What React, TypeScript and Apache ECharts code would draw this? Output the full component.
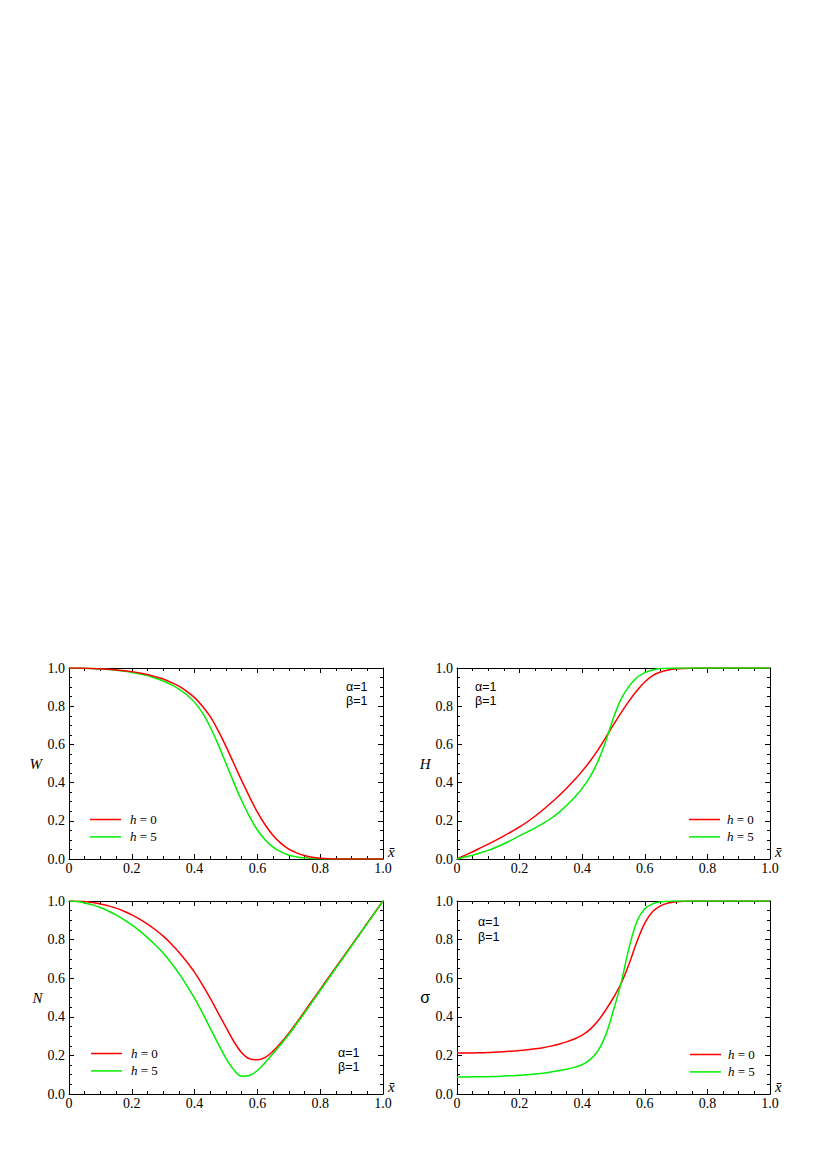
import React, { useEffect, useRef } from 'react';
import * as echarts from 'echarts';

// shared abscissa (x̄), step 0.025
const X = [0, 0.025, 0.05, 0.075, 0.1, 0.125, 0.15, 0.175, 0.2, 0.225, 0.25, 0.275, 0.3, 0.325, 0.35, 0.375, 0.4, 0.425, 0.45, 0.475, 0.5, 0.525, 0.55, 0.575, 0.6, 0.625, 0.65, 0.675, 0.7, 0.725, 0.75, 0.775, 0.8, 0.825, 0.85, 0.875, 0.9, 0.925, 0.95, 0.975, 1.0];

const W_H0 = [1.0, 1.0, 0.999, 0.998, 0.996, 0.993, 0.99, 0.986, 0.981, 0.974, 0.966, 0.955, 0.942, 0.925, 0.905, 0.878, 0.845, 0.8, 0.745, 0.672, 0.59, 0.5, 0.41, 0.325, 0.245, 0.178, 0.123, 0.082, 0.052, 0.032, 0.018, 0.009, 0.004, 0.001, 0, 0, 0, 0, 0, 0, 0];
const W_H5 = [1.0, 1.0, 0.999, 0.997, 0.995, 0.992, 0.988, 0.983, 0.977, 0.969, 0.96, 0.947, 0.932, 0.913, 0.89, 0.86, 0.82, 0.765, 0.69, 0.6, 0.5, 0.4, 0.305, 0.222, 0.152, 0.1, 0.062, 0.037, 0.02, 0.011, 0.006, 0.003, 0.001, 0, 0, 0, 0, 0, 0, 0, 0];

const H_H0 = [0, 0.019, 0.038, 0.058, 0.078, 0.099, 0.121, 0.144, 0.168, 0.195, 0.225, 0.258, 0.293, 0.33, 0.37, 0.413, 0.46, 0.512, 0.57, 0.635, 0.703, 0.768, 0.828, 0.882, 0.927, 0.96, 0.979, 0.99, 0.996, 0.998, 0.999, 1, 1, 1, 1, 1, 1, 1, 1, 1, 1];
const H_H5 = [0, 0.01, 0.02, 0.032, 0.045, 0.062, 0.08, 0.1, 0.122, 0.142, 0.163, 0.186, 0.212, 0.243, 0.28, 0.322, 0.37, 0.43, 0.51, 0.615, 0.74, 0.84, 0.905, 0.95, 0.976, 0.99, 0.997, 0.999, 1, 1, 1, 1, 1, 1, 1, 1, 1, 1, 1, 1, 1];

const N_H0 = [1, 0.999, 0.997, 0.992, 0.985, 0.975, 0.963, 0.947, 0.928, 0.906, 0.88, 0.851, 0.818, 0.779, 0.735, 0.685, 0.63, 0.565, 0.495, 0.42, 0.345, 0.272, 0.214, 0.182, 0.177, 0.19, 0.222, 0.265, 0.315, 0.37, 0.427, 0.485, 0.542, 0.6, 0.657, 0.714, 0.771, 0.828, 0.886, 0.943, 1];
const N_H5 = [1, 0.997, 0.99, 0.98, 0.966, 0.948, 0.928, 0.903, 0.876, 0.845, 0.81, 0.772, 0.73, 0.68, 0.625, 0.562, 0.495, 0.42, 0.34, 0.26, 0.185, 0.125, 0.092, 0.096, 0.122, 0.163, 0.21, 0.258, 0.308, 0.364, 0.42, 0.478, 0.536, 0.594, 0.652, 0.71, 0.768, 0.826, 0.884, 0.942, 1];

const S_H0 = [0.212, 0.212, 0.213, 0.214, 0.215, 0.217, 0.219, 0.222, 0.225, 0.229, 0.234, 0.24, 0.248, 0.258, 0.27, 0.285, 0.305, 0.335, 0.378, 0.435, 0.5, 0.575, 0.675, 0.79, 0.885, 0.945, 0.975, 0.99, 0.996, 0.999, 1, 1, 1, 1, 1, 1, 1, 1, 1, 1, 1];
const S_H5 = [0.088, 0.088, 0.089, 0.089, 0.09, 0.091, 0.093, 0.095, 0.097, 0.1, 0.104, 0.108, 0.114, 0.12, 0.128, 0.138, 0.152, 0.178, 0.222, 0.305, 0.435, 0.58, 0.76, 0.895, 0.96, 0.985, 0.995, 0.999, 1, 1, 1, 1, 1, 1, 1, 1, 1, 1, 1, 1, 1];

const LEGEND_NAMES = ['h = 0', 'h = 5'];
const PARAM_TEXT = 'α=1\nβ=1';

const RED = '#ff0000';
const GREEN = '#00ee00';

const pairs = (ys: number[]) => X.map((x, i) => [x, ys[i]]);

const SERIF = "'Times New Roman', 'Liberation Serif', serif";
const SANS = "'Liberation Sans', Arial, sans-serif";

export default function App() {
  const ref = useRef<HTMLDivElement>(null);
  useEffect(() => {
    if (!ref.current) return;
    const chart = echarts.init(ref.current, null, { renderer: 'svg' });

    const panels = [
      { left: 69, top: 668, width: 314, height: 191, name: 'W', sans: false, nameGap: 27, h0: W_H0, h5: W_H5, redTop: true,
        lg: { left: 90, top: 812.5, pad: 4 }, ann: { x: 346, y: 680.5, lh: 13.5 } },
      { left: 457, top: 668, width: 313, height: 191, name: 'H', sans: false, nameGap: 24, h0: H_H0, h5: H_H5, redTop: false,
        lg: { left: 689, top: 812.5, pad: 2 }, ann: { x: 475, y: 680.5, lh: 13.5 } },
      { left: 69, top: 901, width: 314, height: 193, name: 'N', sans: false, nameGap: 24, h0: N_H0, h5: N_H5, redTop: false,
        lg: { left: 91, top: 1046.5, pad: 4 }, ann: { x: 338, y: 1046, lh: 14 } },
      { left: 457, top: 901, width: 313, height: 193, name: 'σ', sans: true, nameGap: 27, h0: S_H0, h5: S_H5, redTop: false,
        lg: { left: 690, top: 1047.5, pad: 2 }, ann: { x: 478, y: 914, lh: 15 } },
    ];

    const grid: any[] = [];
    const xAxis: any[] = [];
    const yAxis: any[] = [];
    const series: any[] = [];
    const legend: any[] = [];
    const graphic: any[] = [];

    const baseAxis = (gridIndex: number, position: string, showLabel: boolean, isX: boolean) => ({
      type: 'value',
      gridIndex,
      position,
      min: 0,
      max: 1,
      interval: 0.2,
      axisLine: { show: true, onZero: false, lineStyle: { color: '#000', width: 1 } },
      axisTick: { show: true, inside: true, length: 5, lineStyle: { color: '#000', width: 1 } },
      minorTick: { show: true, splitNumber: 4, length: 3, lineStyle: { color: '#000', width: 1 } },
      splitLine: { show: false },
      axisLabel: {
        show: showLabel,
        color: '#000',
        fontFamily: SERIF,
        fontSize: 14,
        margin: isX ? 2 : 4,
        formatter: (v: number) => (isX && v === 0 ? '0' : v.toFixed(1)),
        showMinLabel: true,
        showMaxLabel: true,
      },
    });

    panels.forEach((p, i) => {
      grid.push({ left: p.left, top: p.top, width: p.width, height: p.height, containLabel: false });
      xAxis.push({
        ...baseAxis(i, 'bottom', true, true),
        name: 'x̄',
        nameLocation: 'end',
        nameGap: 5,
        nameTextStyle: { fontFamily: SERIF, fontStyle: 'italic', fontSize: 15, color: '#000', verticalAlign: 'bottom', align: 'left' },
      });
      xAxis.push(baseAxis(i, 'top', false, true));
      yAxis.push({
        ...baseAxis(i, 'left', true, false),
        name: p.name,
        nameLocation: 'middle',
        nameRotate: 0,
        nameGap: p.nameGap,
        nameTextStyle: p.sans
          ? { fontFamily: SANS, fontSize: 16, color: '#000' }
          : { fontFamily: SERIF, fontStyle: 'italic', fontSize: 15, color: '#000' },
      });
      yAxis.push(baseAxis(i, 'right', false, false));

      const sRed = {
        name: LEGEND_NAMES[0], type: 'line', xAxisIndex: 2 * i, yAxisIndex: 2 * i,
        data: pairs(p.h0), symbol: 'none', showSymbol: false, smooth: 0.35, clip: true,
        lineStyle: { color: RED, width: 1.5 }, itemStyle: { color: RED },
      };
      const sGreen = {
        name: LEGEND_NAMES[1], type: 'line', xAxisIndex: 2 * i, yAxisIndex: 2 * i,
        data: pairs(p.h5), symbol: 'none', showSymbol: false, smooth: 0.35, clip: true,
        lineStyle: { color: GREEN, width: 1.5 }, itemStyle: { color: GREEN },
      };
      if (p.redTop) series.push(sGreen, sRed); else series.push(sRed, sGreen);

      legend.push({
        data: LEGEND_NAMES.map((n) => ({ name: n, icon: 'rect' })),
        orient: 'vertical',
        left: p.lg.left,
        top: p.lg.top,
        padding: 0,
        itemWidth: 31,
        itemHeight: 1.5,
        itemGap: 3.4,
        selectedMode: false,
        formatter: (name: string) => `{i|h}{n|${name.slice(1)}}`,
        textStyle: {
          color: '#000',
          fontFamily: SERIF,
          fontSize: 13,
          lineHeight: 14,
          rich: {
            i: { fontFamily: SERIF, fontStyle: 'italic', fontSize: 13, lineHeight: 14, color: '#000', padding: [0, 0, 0, p.lg.pad] },
            n: { fontFamily: SERIF, fontSize: 13, lineHeight: 14, color: '#000' },
          },
        },
      });

      graphic.push({
        type: 'text',
        x: p.ann.x,
        y: p.ann.y,
        style: {
          text: PARAM_TEXT,
          fontFamily: SANS,
          fontSize: 12.5,
          fill: '#000',
          lineHeight: p.ann.lh,
          verticalAlign: 'top',
          align: 'left',
        },
      });
    });

    chart.setOption({
      animation: false,
      backgroundColor: '#fff',
      grid,
      xAxis,
      yAxis,
      series,
      legend,
      graphic,
    });

    return () => chart.dispose();
  }, []);

  return <div ref={ref} style={{ position: 'absolute', left: 0, top: 0, width: 830, height: 1174 }} />;
}
